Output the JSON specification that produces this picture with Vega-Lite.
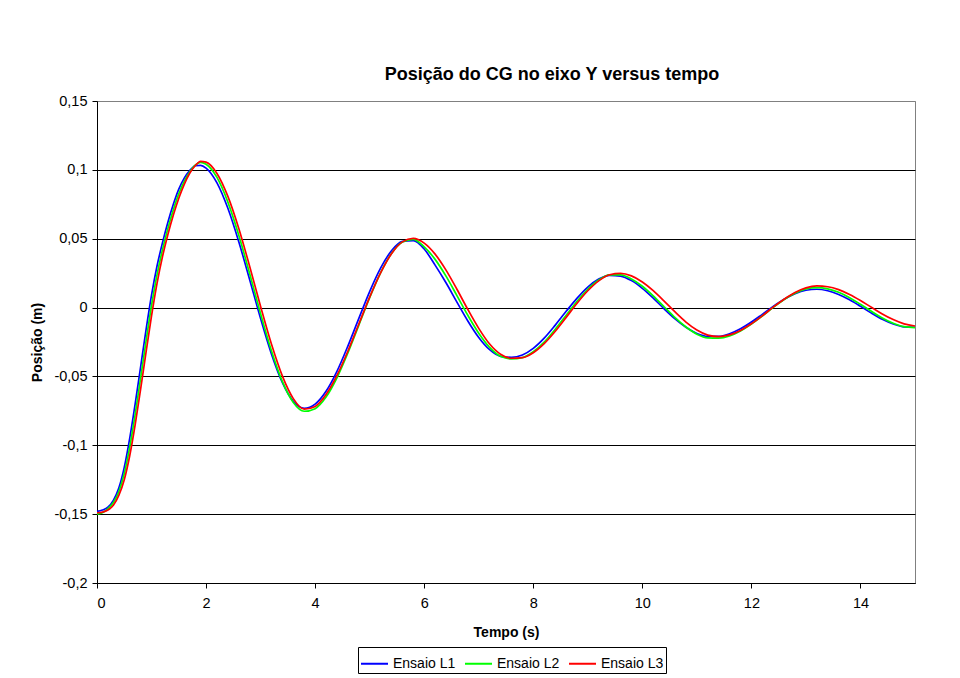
{
  "$schema": "https://vega.github.io/schema/vega-lite/v6.json",
  "width": 818,
  "height": 482,
  "autosize": {"type": "none"},
  "padding": {"left": 97, "top": 101, "right": 45, "bottom": 95},
  "background": "white",
  "title": {"text": "Posição do CG no eixo Y versus tempo", "font": "Liberation Sans", "fontSize": 18, "fontWeight": "bold", "color": "black", "anchor": "middle", "dx": 46, "offset": 9},
  "data": {"values": [
    {"t": 0, "Ensaio L1": -0.148, "Ensaio L2": -0.150, "Ensaio L3": -0.149},
    {"t": 0.1, "Ensaio L1": -0.147, "Ensaio L2": -0.149, "Ensaio L3": -0.1485},
    {"t": 0.2, "Ensaio L1": -0.145, "Ensaio L2": -0.146, "Ensaio L3": -0.147},
    {"t": 0.3, "Ensaio L1": -0.140, "Ensaio L2": -0.1415, "Ensaio L3": -0.1435},
    {"t": 0.4, "Ensaio L1": -0.131, "Ensaio L2": -0.1337, "Ensaio L3": -0.1364},
    {"t": 0.5, "Ensaio L1": -0.116, "Ensaio L2": -0.1205, "Ensaio L3": -0.125},
    {"t": 0.6, "Ensaio L1": -0.095, "Ensaio L2": -0.1013, "Ensaio L3": -0.1076},
    {"t": 0.7, "Ensaio L1": -0.070, "Ensaio L2": -0.0775, "Ensaio L3": -0.085},
    {"t": 0.8, "Ensaio L1": -0.043, "Ensaio L2": -0.0511, "Ensaio L3": -0.0592},
    {"t": 0.9, "Ensaio L1": -0.016, "Ensaio L2": -0.0241, "Ensaio L3": -0.0322},
    {"t": 1.0, "Ensaio L1": 0.009, "Ensaio L2": 0.0015, "Ensaio L3": -0.006},
    {"t": 1.1, "Ensaio L1": 0.030, "Ensaio L2": 0.0237, "Ensaio L3": 0.0174},
    {"t": 1.2, "Ensaio L1": 0.047, "Ensaio L2": 0.0419, "Ensaio L3": 0.0368},
    {"t": 1.3, "Ensaio L1": 0.062, "Ensaio L2": 0.0575, "Ensaio L3": 0.053},
    {"t": 1.4, "Ensaio L1": 0.075, "Ensaio L2": 0.0711, "Ensaio L3": 0.0672},
    {"t": 1.5, "Ensaio L1": 0.086, "Ensaio L2": 0.0827, "Ensaio L3": 0.0794},
    {"t": 1.6, "Ensaio L1": 0.094, "Ensaio L2": 0.0916, "Ensaio L3": 0.0895},
    {"t": 1.7, "Ensaio L1": 0.0995, "Ensaio L2": 0.0985, "Ensaio L3": 0.0975},
    {"t": 1.8, "Ensaio L1": 0.103, "Ensaio L2": 0.1035, "Ensaio L3": 0.103},
    {"t": 1.9, "Ensaio L1": 0.1033, "Ensaio L2": 0.1055, "Ensaio L3": 0.1062},
    {"t": 2.0, "Ensaio L1": 0.1013, "Ensaio L2": 0.1041, "Ensaio L3": 0.1056},
    {"t": 2.2, "Ensaio L1": 0.0906, "Ensaio L2": 0.0945, "Ensaio L3": 0.0974},
    {"t": 2.4, "Ensaio L1": 0.0721, "Ensaio L2": 0.0766, "Ensaio L3": 0.0807},
    {"t": 2.6, "Ensaio L1": 0.0478, "Ensaio L2": 0.0525, "Ensaio L3": 0.0574},
    {"t": 2.8, "Ensaio L1": 0.0202, "Ensaio L2": 0.0245, "Ensaio L3": 0.0298},
    {"t": 3.0, "Ensaio L1": -0.008, "Ensaio L2": -0.0045, "Ensaio L3": 0.0008},
    {"t": 3.2, "Ensaio L1": -0.0338, "Ensaio L2": -0.0315, "Ensaio L3": -0.0267},
    {"t": 3.4, "Ensaio L1": -0.0545, "Ensaio L2": -0.0538, "Ensaio L3": -0.0498},
    {"t": 3.6, "Ensaio L1": -0.0681, "Ensaio L2": -0.0689, "Ensaio L3": -0.0661},
    {"t": 3.8, "Ensaio L1": -0.0731, "Ensaio L2": -0.0753, "Ensaio L3": -0.0738},
    {"t": 4.0, "Ensaio L1": -0.0701, "Ensaio L2": -0.0734, "Ensaio L3": -0.0718},
    {"t": 4.2, "Ensaio L1": -0.0608, "Ensaio L2": -0.065, "Ensaio L3": -0.0632},
    {"t": 4.4, "Ensaio L1": -0.0463, "Ensaio L2": -0.051, "Ensaio L3": -0.0493},
    {"t": 4.6, "Ensaio L1": -0.028, "Ensaio L2": -0.033, "Ensaio L3": -0.0317},
    {"t": 4.8, "Ensaio L1": -0.008, "Ensaio L2": -0.0129, "Ensaio L3": -0.0121},
    {"t": 5.0, "Ensaio L1": 0.0116, "Ensaio L2": 0.0072, "Ensaio L3": 0.0076},
    {"t": 5.2, "Ensaio L1": 0.0286, "Ensaio L2": 0.0252, "Ensaio L3": 0.0252},
    {"t": 5.4, "Ensaio L1": 0.0413, "Ensaio L2": 0.0392, "Ensaio L3": 0.0391},
    {"t": 5.6, "Ensaio L1": 0.0481, "Ensaio L2": 0.0476, "Ensaio L3": 0.0477},
    {"t": 5.8, "Ensaio L1": 0.0486, "Ensaio L2": 0.0495, "Ensaio L3": 0.0502},
    {"t": 6.0, "Ensaio L1": 0.0425, "Ensaio L2": 0.0441, "Ensaio L3": 0.0468},
    {"t": 6.2, "Ensaio L1": 0.0308, "Ensaio L2": 0.035, "Ensaio L3": 0.0388},
    {"t": 6.4, "Ensaio L1": 0.018, "Ensaio L2": 0.0228, "Ensaio L3": 0.0272},
    {"t": 6.6, "Ensaio L1": 0.004, "Ensaio L2": 0.0087, "Ensaio L3": 0.0133},
    {"t": 6.8, "Ensaio L1": -0.0097, "Ensaio L2": -0.0056, "Ensaio L3": -0.0014},
    {"t": 7.0, "Ensaio L1": -0.0217, "Ensaio L2": -0.0186, "Ensaio L3": -0.0151},
    {"t": 7.2, "Ensaio L1": -0.0306, "Ensaio L2": -0.0289, "Ensaio L3": -0.0265},
    {"t": 7.4, "Ensaio L1": -0.0354, "Ensaio L2": -0.0354, "Ensaio L3": -0.0339},
    {"t": 7.6, "Ensaio L1": -0.0361, "Ensaio L2": -0.0373, "Ensaio L3": -0.0368},
    {"t": 7.8, "Ensaio L1": -0.0344, "Ensaio L2": -0.0363, "Ensaio L3": -0.0364},
    {"t": 8.0, "Ensaio L1": -0.0296, "Ensaio L2": -0.0321, "Ensaio L3": -0.0328},
    {"t": 8.2, "Ensaio L1": -0.0222, "Ensaio L2": -0.0251, "Ensaio L3": -0.0262},
    {"t": 8.4, "Ensaio L1": -0.0129, "Ensaio L2": -0.0159, "Ensaio L3": -0.0174},
    {"t": 8.6, "Ensaio L1": -0.0029, "Ensaio L2": -0.0057, "Ensaio L3": -0.0073},
    {"t": 8.8, "Ensaio L1": 0.0067, "Ensaio L2": 0.0044, "Ensaio L3": 0.003},
    {"t": 9.0, "Ensaio L1": 0.0149, "Ensaio L2": 0.0133, "Ensaio L3": 0.0122},
    {"t": 9.2, "Ensaio L1": 0.0207, "Ensaio L2": 0.02, "Ensaio L3": 0.0194},
    {"t": 9.4, "Ensaio L1": 0.0234, "Ensaio L2": 0.0237, "Ensaio L3": 0.0238},
    {"t": 9.6, "Ensaio L1": 0.0229, "Ensaio L2": 0.0238, "Ensaio L3": 0.0248},
    {"t": 9.8, "Ensaio L1": 0.0196, "Ensaio L2": 0.0208, "Ensaio L3": 0.023},
    {"t": 10.0, "Ensaio L1": 0.014, "Ensaio L2": 0.0155, "Ensaio L3": 0.0186},
    {"t": 10.2, "Ensaio L1": 0.0069, "Ensaio L2": 0.0085, "Ensaio L3": 0.0123},
    {"t": 10.4, "Ensaio L1": -0.0009, "Ensaio L2": 0.0006, "Ensaio L3": 0.0047},
    {"t": 10.6, "Ensaio L1": -0.0082, "Ensaio L2": -0.0073, "Ensaio L3": -0.0032},
    {"t": 10.8, "Ensaio L1": -0.0143, "Ensaio L2": -0.0141, "Ensaio L3": -0.0105},
    {"t": 11.0, "Ensaio L1": -0.0188, "Ensaio L2": -0.0193, "Ensaio L3": -0.0163},
    {"t": 11.2, "Ensaio L1": -0.0209, "Ensaio L2": -0.022, "Ensaio L3": -0.02},
    {"t": 11.4, "Ensaio L1": -0.0209, "Ensaio L2": -0.0222, "Ensaio L3": -0.0211},
    {"t": 11.6, "Ensaio L1": -0.019, "Ensaio L2": -0.0206, "Ensaio L3": -0.0198},
    {"t": 11.8, "Ensaio L1": -0.0154, "Ensaio L2": -0.017, "Ensaio L3": -0.0166},
    {"t": 12.0, "Ensaio L1": -0.0105, "Ensaio L2": -0.012, "Ensaio L3": -0.0118},
    {"t": 12.2, "Ensaio L1": -0.0049, "Ensaio L2": -0.0061, "Ensaio L3": -0.006},
    {"t": 12.4, "Ensaio L1": 0.0008, "Ensaio L2": 0.0001, "Ensaio L3": 0.0003},
    {"t": 12.6, "Ensaio L1": 0.006, "Ensaio L2": 0.0058, "Ensaio L3": 0.0061},
    {"t": 12.8, "Ensaio L1": 0.0101, "Ensaio L2": 0.0105, "Ensaio L3": 0.011},
    {"t": 13.0, "Ensaio L1": 0.0126, "Ensaio L2": 0.0135, "Ensaio L3": 0.0143},
    {"t": 13.2, "Ensaio L1": 0.0133, "Ensaio L2": 0.0145, "Ensaio L3": 0.0157},
    {"t": 13.4, "Ensaio L1": 0.0122, "Ensaio L2": 0.0136, "Ensaio L3": 0.0151},
    {"t": 13.6, "Ensaio L1": 0.0095, "Ensaio L2": 0.0111, "Ensaio L3": 0.013},
    {"t": 13.8, "Ensaio L1": 0.0056, "Ensaio L2": 0.0072, "Ensaio L3": 0.0095},
    {"t": 14.0, "Ensaio L1": 0.0009, "Ensaio L2": 0.0024, "Ensaio L3": 0.0051},
    {"t": 14.2, "Ensaio L1": -0.004, "Ensaio L2": -0.0027, "Ensaio L3": 0.0002},
    {"t": 14.4, "Ensaio L1": -0.0085, "Ensaio L2": -0.0075, "Ensaio L3": -0.0046},
    {"t": 14.6, "Ensaio L1": -0.0119, "Ensaio L2": -0.0114, "Ensaio L3": -0.0087},
    {"t": 14.8, "Ensaio L1": -0.014, "Ensaio L2": -0.0139, "Ensaio L3": -0.0118},
    {"t": 15.0, "Ensaio L1": -0.0143, "Ensaio L2": -0.0145, "Ensaio L3": -0.0134}
  ]},
  "transform": [{"fold": ["Ensaio L1", "Ensaio L2", "Ensaio L3"], "as": ["serie", "pos"]}],
  "mark": {"type": "line", "interpolate": "monotone", "strokeWidth": 1.7},
  "encoding": {
    "x": {
      "field": "t", "type": "quantitative",
      "scale": {"domain": [0, 15], "nice": false, "zero": false},
      "axis": {"title": "Tempo (s)", "values": [0, 2, 4, 6, 8, 10, 12, 14], "grid": false, "labelPadding": 8, "titlePadding": 16}
    },
    "y": {
      "field": "pos", "type": "quantitative",
      "scale": {"domain": [-0.2, 0.15], "nice": false, "zero": false},
      "axis": {
        "title": "Posição (m)",
        "values": [-0.2, -0.15, -0.1, -0.05, 0, 0.05, 0.1, 0.15],
        "grid": true,
        "gridColor": {"condition": {"test": "datum.value > 0.149", "value": "#808080"}, "value": "#000000"},
        "gridOpacity": 1,
        "gridWidth": 1,
        "labelPadding": 5,
        "titlePadding": 9,
        "labelExpr": "replace(replace(format(datum.value, '.2~f'), '.', ','), '−', '-')"
      }
    },
    "color": {
      "field": "serie", "type": "nominal",
      "scale": {"domain": ["Ensaio L1", "Ensaio L2", "Ensaio L3"], "range": ["#0000FF", "#00FF00", "#FF0000"]},
      "legend": {
        "title": null, "orient": "none", "direction": "horizontal",
        "legendX": 261, "legendY": 546,
        "strokeColor": "#000000", "fillColor": "#FFFFFF", "padding": 2,
        "symbolType": "stroke", "symbolSize": 729, "symbolStrokeWidth": 2,
        "labelFont": "Liberation Sans", "labelFontSize": 14, "labelColor": "#000000",
        "labelOffset": 4, "columnPadding": 5
      }
    }
  },
  "config": {
    "view": {"stroke": "#808080", "strokeWidth": 1},
    "axis": {
      "domainColor": "#000000", "domainWidth": 1,
      "tickColor": "#000000", "tickSize": 5, "tickWidth": 1,
      "labelFont": "Liberation Sans", "labelFontSize": 14.5, "labelColor": "#000000",
      "titleFont": "Liberation Sans", "titleFontSize": 14, "titleFontWeight": "bold", "titleColor": "#000000"
    }
  }
}
